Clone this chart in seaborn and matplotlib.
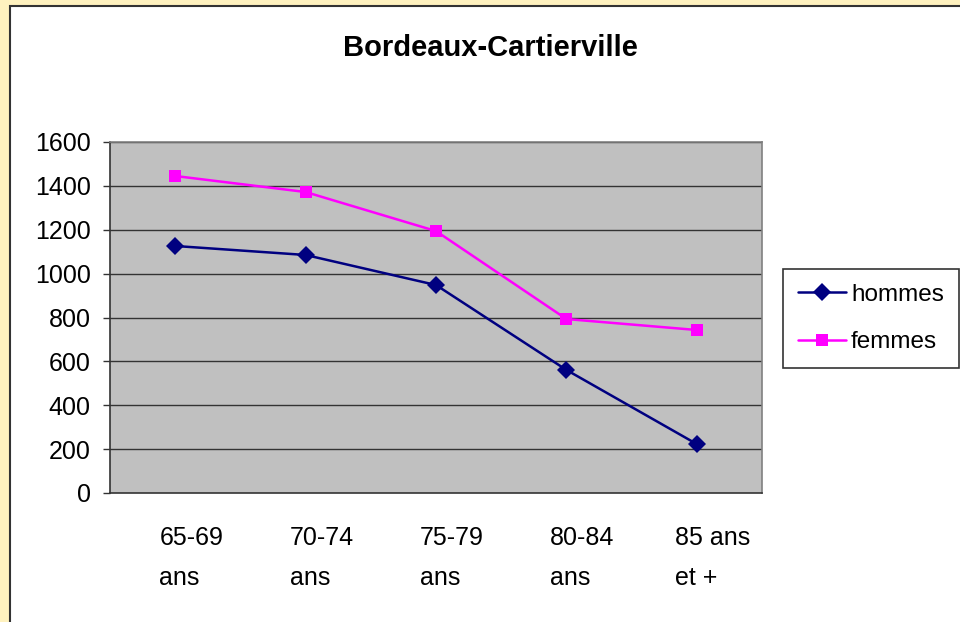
import matplotlib
matplotlib.use("Agg")
import matplotlib.pyplot as plt
import matplotlib.transforms as mtransforms
from matplotlib.patches import Rectangle
import pandas as pd
import seaborn as sns

age_groups = ["65-69\nans", "70-74\nans", "75-79\nans", "80-84\nans", "85 ans\net +"]
hommes = [1126, 1085, 948, 561, 223]
femmes = [1445, 1372, 1194, 793, 743]
y_ticks = [0, 200, 400, 600, 800, 1000, 1200, 1400, 1600]

df = pd.DataFrame({
    "age": list(range(len(age_groups))) * 2,
    "valeur": hommes + femmes,
    "sexe": ["hommes"] * len(hommes) + ["femmes"] * len(femmes),
})

sns.set_style("white")
plt.rcParams["font.family"] = ["Liberation Sans", "DejaVu Sans"]
plt.rcParams["text.color"] = "black"
plt.rcParams["xtick.color"] = "black"
plt.rcParams["ytick.color"] = "black"

fig = plt.figure(figsize=(9.6, 6.22), dpi=100, facecolor="#FFF2BF")
# white chart area with dark edge on top/left
fig.patches.append(Rectangle((10 / 960, -0.01), 1, 1.01 - 6 / 622, transform=fig.transFigure,
                             facecolor="white", edgecolor="#333333", linewidth=1.5, zorder=-10))

ax = fig.add_axes([110 / 960, (622 - 493) / 622, 652 / 960, 351 / 622])
ax.set_facecolor("#C0C0C0")

sns.lineplot(
    data=df, x="age", y="valeur", hue="sexe", style="sexe",
    palette={"hommes": "#000080", "femmes": "#FF00FF"},
    markers={"hommes": "D", "femmes": "s"},
    dashes=False, sort=False, linewidth=1.8, markersize=9,
    markeredgewidth=0, ax=ax, legend=False, zorder=3,
)

ax.set_xlim(-0.5, len(age_groups) - 0.5)
ax.set_ylim(0, 1600)
ax.set_yticks(y_ticks)
ax.set_yticklabels([str(v) for v in y_ticks], fontsize=18)
for v in y_ticks[1:]:
    ax.axhline(v, color="#333333", linewidth=1, zorder=1)

ax.set_xticks(range(len(age_groups)))
ax.set_xticklabels(age_groups, fontsize=18, multialignment="left", linespacing=1.85)
ax.set_xticks([i - 0.5 for i in range(len(age_groups) + 1)], minor=True)
ax.tick_params(axis="x", which="major", length=0, pad=24)
ax.tick_params(axis="x", which="minor", length=6, width=1, color="#333333", direction="out")
ax.tick_params(axis="y", length=5, width=1, color="#333333", direction="out", left=True, pad=9)
shift = mtransforms.ScaledTranslation(16 / 100, 0, fig.dpi_scale_trans)
for lbl in ax.get_xticklabels():
    lbl.set_transform(lbl.get_transform() + shift)

ax.set_xlabel("")
ax.set_ylabel("")
for side in ["left", "bottom"]:
    ax.spines[side].set_color("#333333")
    ax.spines[side].set_linewidth(1.2)
for side in ["top", "right"]:
    ax.spines[side].set_color("#808080")
    ax.spines[side].set_linewidth(1.2)

fig.text(490 / 960, 1 - 48 / 622, "Bordeaux-Cartierville", ha="center", va="center",
         fontsize=21, fontweight="bold", color="black")

handles = [
    plt.Line2D([], [], color="#000080", marker="D", markersize=9, linewidth=1.8, markeredgewidth=0),
    plt.Line2D([], [], color="#FF00FF", marker="s", markersize=9, linewidth=1.8, markeredgewidth=0),
]
leg = ax.legend(handles, ["hommes", "femmes"], loc="upper left",
                bbox_to_anchor=(783 / 960, (622 - 269) / 622), bbox_transform=fig.transFigure,
                fontsize=17.5, frameon=True, fancybox=False, edgecolor="black",
                handlelength=2.0, handletextpad=0.2, borderpad=0.6, labelspacing=1.05,
                borderaxespad=0)
leg.get_frame().set_linewidth(1.2)

fig.savefig("out.png", dpi=100, facecolor=fig.get_facecolor())
